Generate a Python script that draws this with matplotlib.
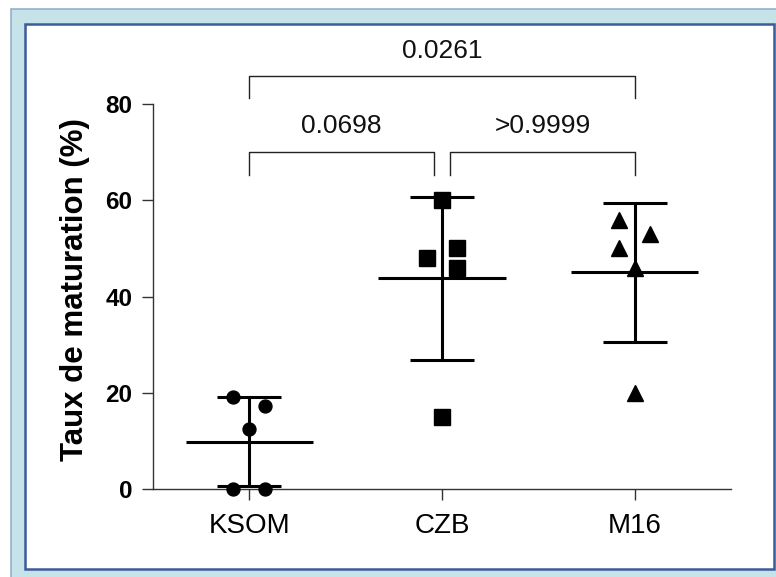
import numpy as np
import matplotlib
matplotlib.use("Agg")
import matplotlib.pyplot as plt
from matplotlib.patches import Rectangle

plt.rcParams['font.family'] = ['Liberation Sans', 'DejaVu Sans']

# data
groups = ['KSOM', 'CZB', 'M16']
ksom = [19.1, 17.3, 12.5, 0.0, 0.0]
czb = [60.0, 48.0, 50.0, 46.0, 15.0]
m16 = [56.0, 53.0, 50.0, 46.0, 20.0]
# horizontal scatter of the dots inside each column
ksom_jit = [-0.083, 0.083, 0.0, -0.083, 0.083]
czb_jit = [0.0, -0.08, 0.08, 0.08, 0.0]
m16_jit = [-0.083, 0.08, -0.083, 0.0, 0.0]
pvals = ['0.0698', '>0.9999', '0.0261']

W, H = 776, 577
fig = plt.figure(figsize=(W / 100, H / 100), dpi=100)

def fr(x, y):
    # pixel (top-left origin) -> figure fraction
    return x / W, 1 - y / H

# light blue frame and white panel
x0, y0 = fr(10.5, 9)
fig.patches.append(Rectangle((x0, -0.1), 1.2, y0 + 0.1, transform=fig.transFigure,
                             facecolor='#c5e3e9', edgecolor='#8ea9cc', lw=1.1, zorder=-10))
x0, y0 = fr(24.5, 568.5)
x1, y1 = fr(773.5, 23.5)
fig.patches.append(Rectangle((x0, y0), x1 - x0, y1 - y0, transform=fig.transFigure,
                             facecolor='white', edgecolor='#3b5c9a', lw=1.8, zorder=-9))

l, b = fr(153, 489)
r, t = fr(731, 104)
ax = fig.add_axes([l, b, r - l, t - b])
ax.patch.set_visible(False)

series = [ksom, czb, m16]
jits = [ksom_jit, czb_jit, m16_jit]
markers = ['o', 's', '^']
msizes = [9.3, 11.3, 11.5]
for i, (vals, jit, mk, ms) in enumerate(zip(series, jits, markers, msizes)):
    vals = np.array(vals)
    m = vals.mean()
    sd = vals.std(ddof=1)
    ax.plot(i + np.array(jit), vals, ls='none', marker=mk, ms=ms, color='black',
            clip_on=False, zorder=3)
    ax.hlines(m, i - 0.33, i + 0.33, color='black', lw=2.2, clip_on=False)
    ax.vlines(i, m - sd, m + sd, color='black', lw=2.2, clip_on=False)
    ax.hlines([m - sd, m + sd], i - 0.166, i + 0.166, color='black', lw=2.2, clip_on=False)

# significance brackets
def bracket(xa, xb, ytop, ybot, label, ytext):
    ax.plot([xa, xa, xb, xb], [ybot, ytop, ytop, ybot], color='#222222', lw=1.0,
            clip_on=False)
    ax.text((xa + xb) / 2, ytext, label, ha='center', va='baseline', fontsize=19,
            color='#111111', clip_on=False)

bracket(0, 0.958, 70.0, 65.3, pvals[0], 73.9)
bracket(1.042, 2, 70.0, 65.3, pvals[1], 73.9)
bracket(0, 2, 85.9, 81.3, pvals[2], 89.5)

ax.set_xlim(-0.5, 2.5)
ax.set_ylim(0, 80)
ax.set_yticks([0, 20, 40, 60, 80])
ax.set_xticks(range(3))
ax.set_xticklabels(groups)
for s in ['top', 'right']:
    ax.spines[s].set_visible(False)
for s in ['left', 'bottom']:
    ax.spines[s].set_linewidth(1.0)
    ax.spines[s].set_color('#333333')
ax.tick_params(axis='both', length=8, width=1.0, color='#333333')
ax.tick_params(axis='y', labelsize=17.5, pad=7)
ax.tick_params(axis='x', labelsize=20, pad=9)
for lab in ax.get_yticklabels():
    lab.set_fontweight('bold')

ax.set_ylabel('Taux de maturation (%)', fontsize=22.5, fontweight='bold')
ax.yaxis.set_label_coords(-0.109, 0.517)

fig.savefig('out.png', dpi=100)
